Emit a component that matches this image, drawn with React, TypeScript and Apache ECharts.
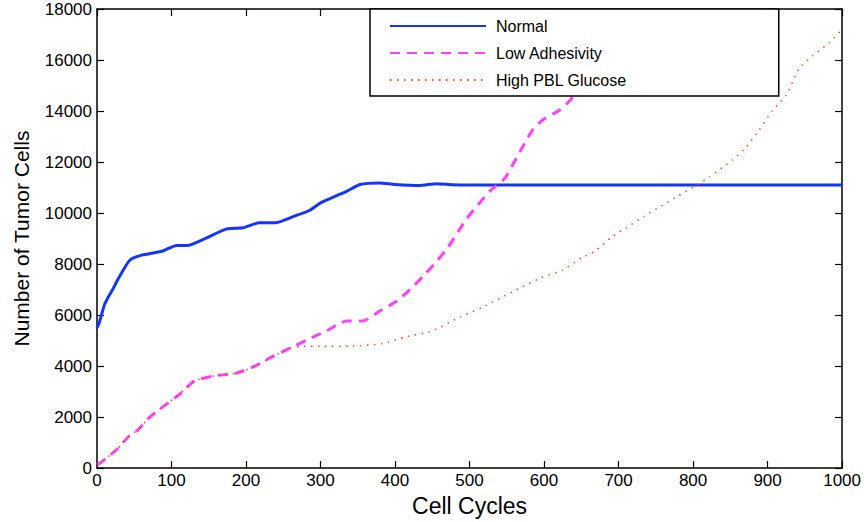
import React, { useEffect, useRef } from "react";
import * as echarts from "echarts";

const normalCycles = [0, 3, 10, 15, 20, 30, 44, 60, 87, 107, 121, 145, 174, 196, 218, 239, 265, 285, 300, 312, 335, 353, 379, 400, 433, 456, 477, 500, 600, 700, 800, 900, 1000];
const normalCells = [5500, 5700, 6400, 6700, 6950, 7500, 8150, 8350, 8500, 8730, 8730, 9000, 9380, 9420, 9620, 9620, 9880, 10100, 10400, 10560, 10850, 11120, 11180, 11120, 11080, 11150, 11110, 11100, 11100, 11100, 11100, 11100, 11100];

const lowCycles = [0, 4, 15, 28, 42, 55, 71, 91, 111, 131, 158, 188, 212, 236, 259, 283, 308, 335, 357, 379, 402, 420, 437, 455, 471, 496, 527, 547, 560, 571, 584, 598, 621, 637, 650, 680, 700];
const lowCells = [150, 190, 450, 770, 1230, 1500, 2000, 2460, 2900, 3420, 3620, 3730, 4000, 4380, 4700, 5040, 5380, 5770, 5770, 6150, 6540, 7000, 7500, 8080, 8650, 9770, 10850, 11350, 12000, 12580, 13230, 13650, 14040, 14500, 15200, 16500, 17400];

const highCycles = [0, 4, 15, 28, 42, 55, 71, 91, 111, 131, 158, 188, 212, 236, 259, 275, 300, 339, 383, 415, 450, 487, 517, 558, 596, 625, 650, 668, 690, 710, 735, 752, 777, 804, 822, 853, 871, 889, 906, 925, 942, 960, 983, 1000];
const highCells = [150, 190, 450, 770, 1230, 1500, 2000, 2460, 2900, 3420, 3620, 3730, 4000, 4380, 4700, 4770, 4780, 4780, 4880, 5150, 5380, 5920, 6300, 6920, 7460, 7770, 8230, 8500, 9040, 9420, 9880, 10190, 10620, 11080, 11420, 12080, 12580, 13270, 14000, 14620, 15650, 16150, 16690, 17200];

const seriesNames = ["Normal", "Low Adhesivity", "High PBL Glucose"];
const xTicks = { min: 0, max: 1000, interval: 100 };
const yTicks = { min: 0, max: 18000, interval: 2000 };

const zip = (xs: number[], ys: number[]) => xs.map((x, i) => [x, ys[i]]);

const FONT = "Liberation Sans, Arial, Helvetica, sans-serif";
const plain = (v: number) => String(v);

export default function App() {
  const ref = useRef<HTMLDivElement>(null);
  useEffect(() => {
    if (!ref.current) return;
    const chart = echarts.init(ref.current, null, { renderer: "svg" });
    const axisCommon = {
      axisLine: { show: true, onZero: false, lineStyle: { color: "#000", width: 1.5 } },
      axisTick: { show: true, inside: true, length: 7, lineStyle: { color: "#000", width: 1.2 } },
      splitLine: { show: false },
    };
    const noSym = { color: "rgba(0,0,0,0)", borderWidth: 0 };
    chart.setOption({
      animation: false,
      backgroundColor: "#fff",
      grid: { left: 97, right: 21, top: 9, bottom: 45, containLabel: false },
      legend: {
        orient: "vertical",
        left: 370,
        top: 9,
        padding: [9, 152, 8, 19],
        itemWidth: 96,
        itemHeight: 14,
        itemGap: 11,
        backgroundColor: "#fff",
        borderColor: "#000",
        borderWidth: 1.5,
        borderRadius: 0,
        z: 10,
        data: seriesNames,
        itemStyle: { borderWidth: 0 },
        textStyle: { fontFamily: FONT, fontSize: 16, color: "#000", padding: [0, 0, 0, 5] },
      },
      xAxis: [
        {
          type: "value",
          position: "bottom",
          ...xTicks,
          ...axisCommon,
          name: "Cell Cycles",
          nameLocation: "middle",
          nameGap: 24,
          nameTextStyle: { fontFamily: FONT, fontSize: 23, color: "#000" },
          axisLabel: { fontFamily: FONT, fontSize: 17, color: "#000", margin: 4, formatter: plain },
        },
        {
          type: "value",
          position: "top",
          ...xTicks,
          ...axisCommon,
          axisLabel: { show: false },
        },
      ],
      yAxis: [
        {
          type: "value",
          position: "left",
          ...yTicks,
          ...axisCommon,
          name: "Number of Tumor Cells",
          nameLocation: "middle",
          nameGap: 65,
          nameTextStyle: { fontFamily: FONT, fontSize: 21, color: "#000" },
          axisLabel: { fontFamily: FONT, fontSize: 17, color: "#000", margin: 5, formatter: plain },
        },
        {
          type: "value",
          position: "right",
          ...yTicks,
          ...axisCommon,
          axisLabel: { show: false },
        },
      ],
      series: [
        {
          name: seriesNames[0],
          type: "line",
          data: zip(normalCycles, normalCells),
          symbol: "none",
          smooth: 0.2,
          clip: true,
          itemStyle: noSym,
          lineStyle: { color: "#1434ff", width: 3 },
        },
        {
          name: seriesNames[1],
          type: "line",
          data: zip(lowCycles, lowCells),
          symbol: "none",
          smooth: 0.2,
          clip: true,
          itemStyle: noSym,
          lineStyle: { color: "#ff40ff", width: 3, type: [10, 7] },
        },
        {
          name: seriesNames[2],
          type: "line",
          data: zip(highCycles, highCells),
          symbol: "none",
          smooth: 0.2,
          clip: true,
          itemStyle: noSym,
          lineStyle: { color: "#ff4422", width: 1.5, type: [1.5, 5.5] },
        },
      ],
    });
    return () => chart.dispose();
  }, []);
  return <div ref={ref} style={{ width: 864, height: 522, position: "absolute", left: 0, top: 0 }} />;
}
